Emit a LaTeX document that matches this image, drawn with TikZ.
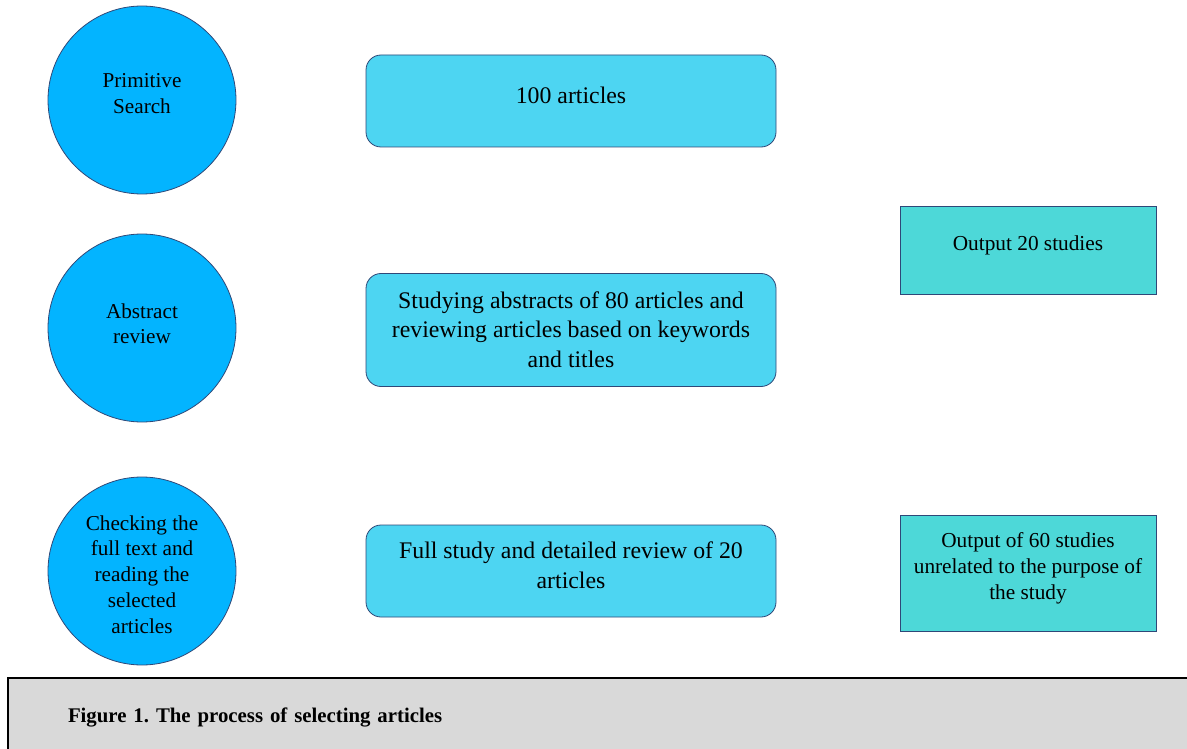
\documentclass[tikz,border=0pt]{standalone}
\usepackage{fontspec}
\setmainfont{Liberation Serif}
\frenchspacing
\definecolor{circfill}{RGB}{3,180,255}
\definecolor{boxfill}{RGB}{77,213,242}
\definecolor{outfill}{RGB}{77,216,216}
\definecolor{bordc}{RGB}{47,72,120}
\definecolor{capgray}{RGB}{217,217,217}
% extra depth (moves text up by half of it) and extra height (moves text down by half of it)
\newcommand{\shiftup}[2]{\raisebox{0pt}[\height][\dimexpr\depth+#1\relax]{\begin{tabular}{@{}c@{}}#2\end{tabular}}}
\newcommand{\shiftdown}[2]{\raisebox{0pt}[\dimexpr\height+#1\relax][\depth]{\begin{tabular}{@{}c@{}}#2\end{tabular}}}
\begin{document}
\begin{tikzpicture}[x=1pt,y=-1pt,
  circ/.style={circle, draw=bordc, line width=0.8pt, fill=circfill, minimum size=188pt, inner sep=0pt, font=\fontsize{21.2}{25.7}\selectfont},
  midbox/.style={rectangle, rounded corners=15pt, draw=bordc, line width=0.8pt, fill=boxfill, minimum width=410pt, inner sep=0pt, font=\fontsize{23.8}{29.5}\selectfont},
  outbox/.style={rectangle, draw=bordc, line width=0.8pt, fill=outfill, minimum width=256pt, inner sep=0pt, font=\fontsize{21.3}{26}\selectfont},
  capbar/.style={rectangle, draw=black, line width=2pt, fill=capgray, anchor=north west, minimum width=1200pt, minimum height=78pt, text width=1080pt, inner xsep=54pt, align=left, font=\bfseries\fontsize{20.8}{22}\selectfont}]
\useasboundingbox (0,0) rectangle (1187,749);
\fill[white] (0,0) rectangle (1187,749);
% circles
\node[circ] (c1) at (142,100) {\shiftup{9pt}{Primitive\\Search}};
\node[circ] (c2) at (142,328) {\shiftup{4pt}{Abstract\\review}};
\node[circ] (c3) at (142,571) {\shiftdown{11pt}{Checking the\\full text and\\reading the\\selected\\articles}};
% middle boxes
\node[midbox, minimum height=92pt] (m1) at (571,101) {\shiftup{7pt}{100 articles}};
\node[midbox, minimum height=113pt] (m2) at (571,330) {\shiftdown{4pt}{Studying abstracts of 80 articles and\\reviewing articles based on keywords\\and titles}};
\node[midbox, minimum height=92pt] (m3) at (571,571) {\shiftup{7pt}{Full study and detailed review of 20\\articles}};
% output boxes
\node[outbox, minimum height=88pt] (o1) at (1028,250) {\shiftup{10pt}{Output 20 studies}};
\node[outbox, minimum height=116pt] (o2) at (1028,573) {\shiftup{10pt}{Output of 60 studies\\unrelated to the purpose of\\the study}};
% caption
\node[capbar] (cap) at (7,677) {Figure 1. The process of selecting articles};
\end{tikzpicture}
\end{document}
